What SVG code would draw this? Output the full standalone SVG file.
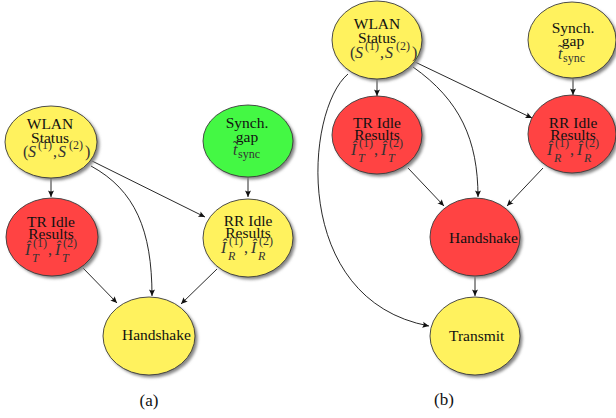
<svg xmlns="http://www.w3.org/2000/svg" width="616" height="418" viewBox="0 0 616 418">
<style>
text{font-family:"Liberation Serif","Times New Roman",serif;font-size:15.5px;fill:#111}
.c{text-anchor:middle}
.m{fill:#333;font-size:16px}
.i{font-style:italic}
.s{font-size:12px}
.sh{fill:#858585;filter:url(#blur)}
.el{stroke:#3a3a3a;stroke-width:0.9}
.y{fill:#fff25e}
.r{fill:#ff4343}
.g{fill:#44f844}
.e{fill:none;stroke:#111;stroke-width:0.9;marker-end:url(#ah)}
.cap{font-size:17px}
</style>
<defs>
<filter id="blur" x="-20%" y="-20%" width="140%" height="140%"><feGaussianBlur stdDeviation="1.4"/></filter>
<marker id="ah" viewBox="-7 -4 8 8" refX="0" refY="0" markerWidth="8" markerHeight="8" markerUnits="userSpaceOnUse" orient="auto">
<path d="M0,0 L-6.5,-3 Q-4.5,0 -6.5,3 Z" fill="#111"/>
</marker>
</defs>

<g id="connectors">
<path class="e" d="M51,178 L51,197"/>
<path class="e" d="M248,177 L248,197"/>
<path class="e" d="M88,159 L205,217"/>
<path class="e" d="M91,166 C135,190 152,230 152,296"/>
<path class="e" d="M83,268 L117,303"/>
<path class="e" d="M217,269 L181,304"/>
<path class="e" d="M377,79 L377,96"/>
<path class="e" d="M573,78 L573,95"/>
<path class="e" d="M415,62 L532,118"/>
<path class="e" d="M413,67 C460,100 478,140 478,197"/>
<path class="e" d="M348,74 C305,110 290,300 429,326"/>
<path class="e" d="M408,168 L444,206"/>
<path class="e" d="M543,168 L507,206"/>
<path class="e" d="M475,277 L475,296"/>
</g>

<g id="a-wlan">
<ellipse class="sh" cx="53.5" cy="144.5" rx="46" ry="36"/>
<ellipse class="el y" cx="51" cy="142" rx="46" ry="36"/>
<text class="c" x="50" y="129">WLAN</text>
<text class="c" x="50" y="143">Status</text>
<text class="m" y="157"><tspan x="23">(</tspan><tspan class="i" x="28">S</tspan><tspan class="s" x="38" y="149">(1)</tspan><tspan x="53" y="157">,</tspan><tspan class="i" x="58">S</tspan><tspan class="s" x="69" y="149">(2)</tspan><tspan x="85" y="157">)</tspan></text>
</g>

<g id="a-synch">
<ellipse class="sh" cx="250.5" cy="143.5" rx="45" ry="36"/>
<ellipse class="el g" cx="248" cy="141" rx="45" ry="36"/>
<text class="c" x="247" y="128">Synch.</text>
<text class="c" x="247" y="142">gap</text>
<text class="m" y="155"><tspan class="i" x="233">t</tspan><tspan x="233" y="152">˜</tspan><tspan class="s" x="238" y="158">sync</tspan></text>
</g>

<g id="a-tr">
<ellipse class="sh" cx="54.5" cy="239.5" rx="46" ry="39"/>
<ellipse class="el r" cx="52" cy="237" rx="46" ry="39"/>
<text class="c" x="51" y="227">TR Idle</text>
<text class="c" x="51" y="239">Results</text>
<text class="m" y="255"><tspan class="i" x="25">Î</tspan><tspan class="s" x="33" y="247">(1)</tspan><tspan class="s i" x="32" y="262">T</tspan><tspan x="48" y="255">,</tspan><tspan class="i" x="55">Î</tspan><tspan class="s" x="63" y="247">(2)</tspan><tspan class="s i" x="62" y="262">T</tspan></text>
</g>

<g id="a-rr">
<ellipse class="sh" cx="250.5" cy="240.5" rx="45" ry="39"/>
<ellipse class="el y" cx="248" cy="238" rx="45" ry="39"/>
<text class="c" x="248" y="226">RR Idle</text>
<text class="c" x="248" y="238">Results</text>
<text class="m" y="253"><tspan class="i" x="221">Î</tspan><tspan class="s" x="229" y="245">(1)</tspan><tspan class="s i" x="228" y="260">R</tspan><tspan x="244" y="253">,</tspan><tspan class="i" x="251">Î</tspan><tspan class="s" x="259" y="245">(2)</tspan><tspan class="s i" x="258" y="260">R</tspan></text>
</g>

<g id="a-handshake">
<ellipse class="sh" cx="151.5" cy="338.5" rx="46" ry="39"/>
<ellipse class="el y" cx="149" cy="336" rx="46" ry="39"/>
<text x="122" y="340">Handshake</text>
</g>

<g id="b-wlan">
<ellipse class="sh" cx="379.5" cy="42.5" rx="45" ry="39"/>
<ellipse class="el y" cx="377" cy="40" rx="45" ry="39"/>
<text class="c" x="377" y="29">WLAN</text>
<text class="c" x="377" y="43">Status</text>
<text class="m" y="58"><tspan x="350">(</tspan><tspan class="i" x="355">S</tspan><tspan class="s" x="365" y="50">(1)</tspan><tspan x="380" y="58">,</tspan><tspan class="i" x="385">S</tspan><tspan class="s" x="396" y="50">(2)</tspan><tspan x="412" y="58">)</tspan></text>
</g>

<g id="b-synch">
<ellipse class="sh" cx="574.5" cy="42.5" rx="44" ry="38"/>
<ellipse class="el y" cx="572" cy="40" rx="44" ry="38"/>
<text class="c" x="573" y="33">Synch.</text>
<text class="c" x="573" y="46">gap</text>
<text class="m" y="59"><tspan class="i" x="558">t</tspan><tspan x="558" y="56">˜</tspan><tspan class="s" x="563" y="62">sync</tspan></text>
</g>

<g id="b-tr">
<ellipse class="sh" cx="379.5" cy="137.5" rx="45" ry="39"/>
<ellipse class="el r" cx="377" cy="135" rx="45" ry="39"/>
<text class="c" x="377" y="128">TR Idle</text>
<text class="c" x="377" y="140">Results</text>
<text class="m" y="155"><tspan class="i" x="351">Î</tspan><tspan class="s" x="359" y="147">(1)</tspan><tspan class="s i" x="358" y="162">T</tspan><tspan x="374" y="155">,</tspan><tspan class="i" x="381">Î</tspan><tspan class="s" x="389" y="147">(2)</tspan><tspan class="s i" x="388" y="162">T</tspan></text>
</g>

<g id="b-rr">
<ellipse class="sh" cx="574.5" cy="136.5" rx="44" ry="39"/>
<ellipse class="el r" cx="572" cy="134" rx="44" ry="39"/>
<text class="c" x="573" y="128">RR Idle</text>
<text class="c" x="573" y="140">Results</text>
<text class="m" y="155"><tspan class="i" x="547">Î</tspan><tspan class="s" x="555" y="147">(1)</tspan><tspan class="s i" x="554" y="162">R</tspan><tspan x="570" y="155">,</tspan><tspan class="i" x="577">Î</tspan><tspan class="s" x="585" y="147">(2)</tspan><tspan class="s i" x="584" y="162">R</tspan></text>
</g>

<g id="b-handshake">
<ellipse class="sh" cx="477.5" cy="239.5" rx="45" ry="39"/>
<ellipse class="el r" cx="475" cy="237" rx="45" ry="39"/>
<text x="449" y="243">Handshake</text>
</g>

<g id="b-transmit">
<ellipse class="sh" cx="477.5" cy="338.5" rx="45" ry="39"/>
<ellipse class="el y" cx="475" cy="336" rx="45" ry="39"/>
<text x="449" y="341">Transmit</text>
</g>

<text class="c cap" x="149" y="406">(a)</text>
<text class="c cap" x="444" y="405">(b)</text>
</svg>
